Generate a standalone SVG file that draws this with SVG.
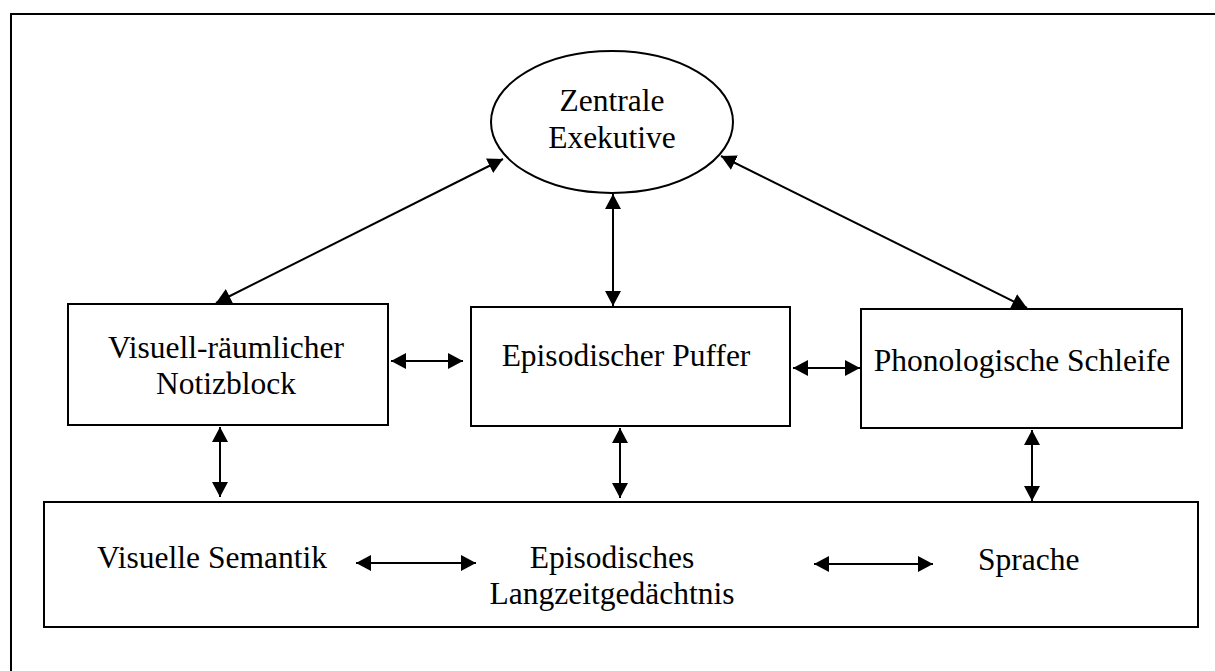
<svg xmlns="http://www.w3.org/2000/svg" width="1215" height="671" viewBox="0 0 1215 671">
<style>
  .box { fill: #fff; stroke: #000; stroke-width: 2; }
  .lbl { font-family: "Liberation Serif", "Times New Roman", serif; font-size: 31.5px; fill: #000; }
  .mid { text-anchor: middle; }
  .con { stroke: #000; stroke-width: 2; fill: none; marker-start: url(#ah); marker-end: url(#ah); }
  .frame { stroke: #000; stroke-width: 2; fill: none; }
</style>
<defs>
  <marker id="ah" markerUnits="userSpaceOnUse" markerWidth="16" markerHeight="16" refX="15" refY="8" orient="auto-start-reverse" viewBox="0 0 16 16">
    <path d="M0,0 L15,8 L0,16 z" fill="#000"/>
  </marker>
</defs>
<rect width="1215" height="671" fill="#fff"/>
<path class="frame" d="M11,671 L11,14 L1215,14"/>

<g id="zentrale-exekutive">
  <ellipse class="box" cx="612" cy="122" rx="121" ry="71"/>
  <text class="lbl mid" x="612" y="111">Zentrale</text>
  <text class="lbl mid" x="612" y="148">Exekutive</text>
</g>
<g id="visuell-raeumlicher-notizblock">
  <rect class="box" x="68" y="304" width="320" height="121"/>
  <text class="lbl mid" x="226" y="358">Visuell-räumlicher</text>
  <text class="lbl mid" x="226" y="394">Notizblock</text>
</g>
<g id="episodischer-puffer">
  <rect class="box" x="471" y="307" width="319" height="119"/>
  <text class="lbl mid" x="626" y="366">Episodischer Puffer</text>
</g>
<g id="phonologische-schleife">
  <rect class="box" x="861" y="309" width="321" height="119"/>
  <text class="lbl mid" x="1022" y="371">Phonologische Schleife</text>
</g>
<g id="langzeitgedaechtnis">
  <rect class="box" x="44" y="502" width="1154" height="125"/>
  <text class="lbl" x="97" y="568">Visuelle Semantik</text>
  <text class="lbl mid" x="612" y="568">Episodisches</text>
  <text class="lbl mid" x="612" y="604">Langzeitgedächtnis</text>
  <text class="lbl" x="978" y="570">Sprache</text>
</g>

<g id="connectors">
  <line class="con" x1="503" y1="159" x2="216" y2="303"/>
  <line class="con" x1="721" y1="156" x2="1027" y2="308"/>
  <line class="con" x1="613" y1="194" x2="613" y2="306"/>
  <line class="con" x1="391" y1="361" x2="463" y2="361"/>
  <line class="con" x1="793" y1="368" x2="860" y2="368"/>
  <line class="con" x1="220" y1="427" x2="220" y2="497"/>
  <line class="con" x1="620" y1="428" x2="620" y2="498"/>
  <line class="con" x1="1032" y1="430" x2="1032" y2="501"/>
  <line class="con" x1="356" y1="563" x2="476" y2="563"/>
  <line class="con" x1="814" y1="564" x2="933" y2="564"/>
</g>
</svg>
